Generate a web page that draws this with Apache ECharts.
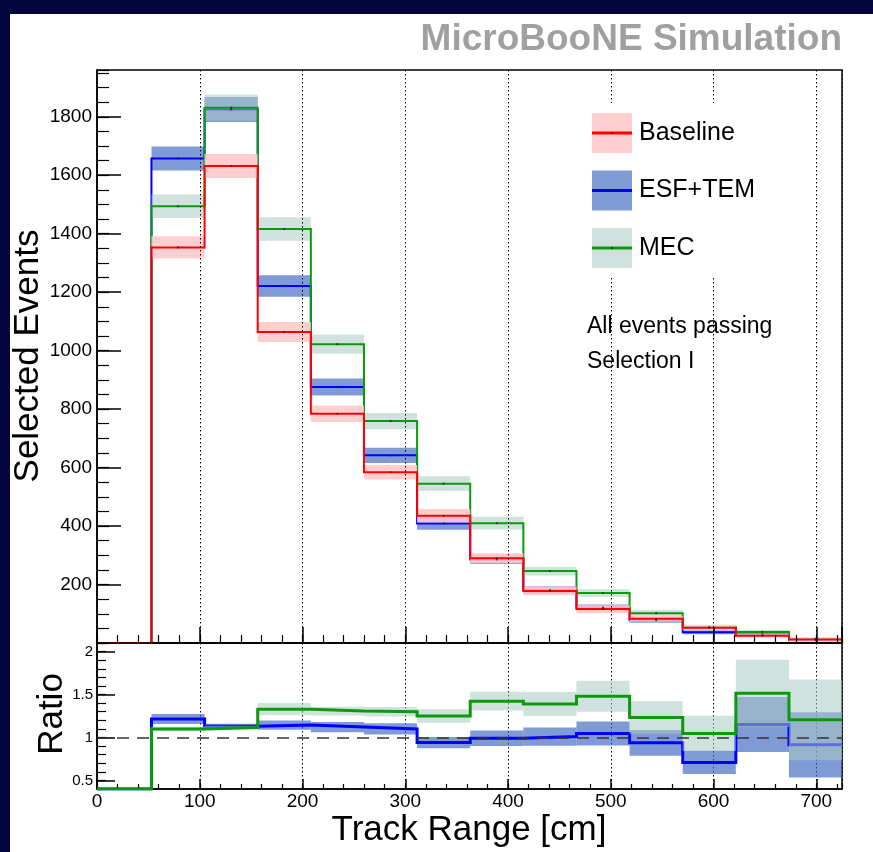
<!DOCTYPE html>
<html>
<head>
<meta charset="utf-8">
<script src="https://cdn.jsdelivr.net/npm/echarts@6/dist/echarts.min.js"></script>
<style>
  html, body { margin: 0; padding: 0; background: #03053f; }
  #chart { width: 873px; height: 852px; }
</style>
</head>
<body>
<div id="chart"></div>
<script>
// Track-range histograms (14 bins) for three generator configurations.
const binEdges = [0, 53.0, 104.7, 156.4, 208.1, 259.8, 311.5, 363.2, 414.9, 466.6, 518.3, 570.0, 621.7, 673.4, 725];

const baseline    = [0, 1353, 1632, 1064, 784, 584, 435, 290, 178, 116, 83, 52, 25, 12];
const baselineErr = [0, 38, 41, 34, 28, 25, 23, 17, 15, 13, 10, 8, 6, 6];

const esfTem      = [0, 1657, 1825, 1221, 876, 642, 409, 286, 181, 121, 78, 37, 29, 11];
const esfTemErr   = [0, 41, 43, 37, 29, 26, 22, 16, 13, 11, 9, 7, 6, 5];

const mec         = [0, 1494, 1831, 1416, 1022, 759, 545, 410, 246, 171, 102, 54, 38, 14];
const mecErr      = [0, 40, 45, 40, 33, 28, 25, 22, 15, 13, 11, 8, 7, 6];

// Ratios to the baseline prediction, with their uncertainty bands.
const esfTemRatio    = [0, 1.214, 1.13, 1.144, 1.121, 1.10, 0.94, 0.99, 1.01, 1.047, 0.938, 0.71, 1.15, 0.915];
const esfTemRatioErr = [0, 0.058, 0.03, 0.055, 0.06, 0.065, 0.065, 0.09, 0.105, 0.14, 0.15, 0.135, 0.32, 0.38];
const mecRatio       = [0, 1.10, 1.116, 1.33, 1.307, 1.30, 1.25, 1.423, 1.39, 1.48, 1.233, 1.047, 1.516, 1.206];
const mecRatioErr    = [0, 0.025, 0.02, 0.07, 0.05, 0.055, 0.08, 0.11, 0.14, 0.18, 0.19, 0.205, 0.39, 0.47];

// Axis ranges
const xRange = [0, 725];
const xMajorStep = 100, xMinorStep = 20;
const yRange = [0, 1960];
const yMajorStep = 200, yMinorStep = 50;
const ratioRange = [0.4, 2.1];
const ratioMajorStep = 0.5, ratioMinorStep = 0.1;

const legendEntries = ['Baseline', 'ESF+TEM', 'MEC'];
const noteLines = ['All events passing', 'Selection I'];

const FONT = '"Liberation Sans", Arial, Helvetica, sans-serif';

const colors = {
  baseline: { line: '#ff0000', band: 'rgba(255,200,200,0.88)' },
  esfTem:   { line: '#0000ff', band: 'rgba(60,100,190,0.65)' },
  mec:      { line: '#0c9a0c', band: 'rgba(170,202,195,0.55)' }
};

// Step outline of a histogram: two points per bin at its edges.
function stepPoints(values, floor) {
  const pts = [];
  values.forEach((v, i) => {
    const y = floor != null ? Math.max(v, floor) : v;
    pts.push([binEdges[i], y]);
    pts.push([binEdges[i + 1], y]);
  });
  return pts;
}

function lineSeries(name, axis, values, color, width, z, floor) {
  return {
    type: 'line', name, xAxisIndex: axis, yAxisIndex: axis,
    data: stepPoints(values, floor),
    showSymbol: false, symbol: 'none', clip: true, z, silent: true,
    lineStyle: { color, width, join: 'miter', cap: 'butt' }
  };
}

function bandSeries(name, axis, values, errors, fill, z) {
  const data = [];
  values.forEach((v, i) => {
    if (v > 0) data.push([binEdges[i], binEdges[i + 1], v - errors[i], v + errors[i]]);
  });
  return {
    type: 'custom', name, xAxisIndex: axis, yAxisIndex: axis, z, silent: true, clip: true,
    encode: { x: [0, 1], y: [2, 3] },
    renderItem(params, api) {
      const a = api.coord([api.value(0), api.value(3)]);
      const b = api.coord([api.value(1), api.value(2)]);
      return { type: 'rect', shape: { x: a[0], y: a[1], width: b[0] - a[0], height: b[1] - a[1] }, style: { fill } };
    },
    data
  };
}

function centerDots(values, z) {
  const data = [];
  values.forEach((v, i) => { if (v > 0) data.push([(binEdges[i] + binEdges[i + 1]) / 2, v]); });
  return { type: 'scatter', xAxisIndex: 0, yAxisIndex: 0, data, symbolSize: 2.2, z, silent: true,
           itemStyle: { color: '#222' } };
}

const plainNumber = v => String(v);
const tickText = { color: '#000', fontFamily: FONT, formatter: plainNumber };

const chart = echarts.init(document.getElementById('chart'), null, { renderer: 'canvas' });

const grids = [
  { left: 97, top: 70, width: 745, height: 573, show: true, borderColor: '#000', borderWidth: 1.5, backgroundColor: 'transparent' },
  { left: 97, top: 643, width: 745, height: 146, show: true, borderColor: '#000', borderWidth: 1.5, backgroundColor: 'transparent' }
];

const dottedGrid = { show: true, lineStyle: { color: '#000', width: 1, type: [1.5, 2.5] } };

const xAxes = [
  { type: 'value', gridIndex: 0, min: xRange[0], max: xRange[1], interval: xMajorStep, z: 10,
    axisLine: { show: true, lineStyle: { color: '#000', width: 1.5 } },
    axisTick: { show: true, inside: true, length: 16, lineStyle: { color: '#000', width: 1.5 } },
    axisLabel: { show: false }, splitLine: dottedGrid },
  { type: 'value', gridIndex: 0, position: 'bottom', min: xRange[0], max: xRange[1], interval: xMinorStep, z: 10,
    axisLine: { show: false },
    axisTick: { show: true, inside: true, length: 8, lineStyle: { color: '#000', width: 1.2 } },
    axisLabel: { show: false }, splitLine: { show: false } },
  { type: 'value', gridIndex: 1, min: xRange[0], max: xRange[1], interval: xMajorStep,
    axisLine: { show: true, lineStyle: { color: '#000', width: 1.5 } },
    axisTick: { show: true, inside: true, length: 10, lineStyle: { color: '#000', width: 1.5 } },
    axisLabel: { show: true, fontSize: 19, margin: 3, showMaxLabel: false, ...tickText },
    splitLine: dottedGrid },
  { type: 'value', gridIndex: 1, position: 'bottom', min: xRange[0], max: xRange[1], interval: xMinorStep,
    axisLine: { show: false },
    axisTick: { show: true, inside: true, length: 5, lineStyle: { color: '#000', width: 1.2 } },
    axisLabel: { show: false }, splitLine: { show: false } }
];

const yAxes = [
  { type: 'value', gridIndex: 0, min: yRange[0], max: yRange[1], interval: yMajorStep, z: 10,
    axisLine: { show: true, lineStyle: { color: '#000', width: 1.5 } },
    axisTick: { show: true, inside: true, length: 24, lineStyle: { color: '#000', width: 1.5 } },
    axisLabel: { show: true, fontSize: 19, margin: 5, showMinLabel: false, showMaxLabel: false, ...tickText },
    splitLine: { show: false } },
  { type: 'value', gridIndex: 0, position: 'left', min: yRange[0], max: yRange[1], interval: yMinorStep, z: 10,
    axisLine: { show: false },
    axisTick: { show: true, inside: true, length: 12, lineStyle: { color: '#000', width: 1.2 } },
    axisLabel: { show: false }, splitLine: { show: false } },
  { type: 'value', gridIndex: 1, min: ratioRange[0], max: ratioRange[1],
    minInterval: ratioMajorStep, maxInterval: ratioMajorStep,
    axisLine: { show: true, lineStyle: { color: '#000', width: 1.5 } },
    axisTick: { show: true, inside: true, length: 18, lineStyle: { color: '#000', width: 1.5 } },
    axisLabel: { show: true, fontSize: 15, margin: 4, showMinLabel: false, showMaxLabel: false, ...tickText },
    splitLine: { show: false } },
  { type: 'value', gridIndex: 1, position: 'left', min: ratioRange[0], max: ratioRange[1], interval: ratioMinorStep,
    axisLine: { show: false },
    axisTick: { show: true, inside: true, length: 9, lineStyle: { color: '#000', width: 1.2 } },
    axisLabel: { show: false }, splitLine: { show: false } }
];

const series = [
  // upper pad
  bandSeries('ESF+TEM band', 0, esfTem, esfTemErr, colors.esfTem.band, 2),
  lineSeries('ESF+TEM', 0, esfTem, colors.esfTem.line, 2, 3),
  bandSeries('MEC band', 0, mec, mecErr, colors.mec.band, 4),
  lineSeries('MEC', 0, mec, colors.mec.line, 2, 5),
  bandSeries('Baseline band', 0, baseline, baselineErr, colors.baseline.band, 6),
  lineSeries('Baseline', 0, baseline, colors.baseline.line, 2, 7),
  centerDots(esfTem, 8), centerDots(mec, 8), centerDots(baseline, 8),
  // ratio pad
  bandSeries('ESF+TEM ratio band', 2, esfTemRatio, esfTemRatioErr, colors.esfTem.band, 2),
  lineSeries('ESF+TEM ratio', 2, esfTemRatio, colors.esfTem.line, 3, 3, ratioRange[0]),
  bandSeries('MEC ratio band', 2, mecRatio, mecRatioErr, colors.mec.band, 4),
  Object.assign(lineSeries('MEC ratio', 2, mecRatio, colors.mec.line, 3, 5, ratioRange[0]), {
    markLine: {
      silent: true, symbol: ['none', 'none'], label: { show: false },
      lineStyle: { color: '#333', width: 1.5, type: [12, 8] },
      data: [{ yAxis: 1 }]
    }
  })
];

// Legend box and annotation, drawn in pixel space.
const legendBands = [colors.baseline, colors.esfTem, colors.mec];
const legendGraphics = [
  { type: 'rect', z: 50, shape: { x: 584, y: 103, width: 205, height: 175 }, style: { fill: '#fff' } }
];
legendEntries.forEach((label, i) => {
  const y0 = 113 + i * 57.5;
  legendGraphics.push(
    { type: 'rect', z: 51, shape: { x: 592, y: y0, width: 40, height: 40 }, style: { fill: legendBands[i].band } },
    { type: 'line', z: 52, shape: { x1: 592, y1: y0 + 20, x2: 632, y2: y0 + 20 }, style: { stroke: legendBands[i].line, lineWidth: 3 } },
    { type: 'circle', z: 53, shape: { cx: 612, cy: y0 + 20, r: 1 }, style: { fill: '#222' } },
    { type: 'text', z: 53, x: 639, y: y0 + 20,
      style: { text: label, fill: '#000', font: '25px ' + FONT, textAlign: 'left', textVerticalAlign: 'middle' } }
  );
});
noteLines.forEach((t, i) => {
  legendGraphics.push({ type: 'text', z: 53, x: 587, y: 327 + i * 35,
    style: { text: t, fill: '#000', font: '23px ' + FONT, textAlign: 'left', textVerticalAlign: 'middle' } });
});

const option = {
  animation: false,
  backgroundColor: '#03053f',
  grid: grids,
  xAxis: xAxes,
  yAxis: yAxes,
  series,
  graphic: [
    { type: 'rect', z: -10, shape: { x: 10, y: 14, width: 863, height: 838 }, style: { fill: '#ffffff' } },
    { type: 'text', z: 60, x: 842, y: 40,
      style: { text: 'MicroBooNE Simulation', fill: '#a0a0a0', font: 'bold 37px ' + FONT, textAlign: 'right', textVerticalAlign: 'middle' } },
    { type: 'text', z: 60, x: 28, y: 356, rotation: Math.PI / 2,
      style: { text: 'Selected Events', fill: '#000', font: '35px ' + FONT, textAlign: 'center', textVerticalAlign: 'middle' } },
    { type: 'text', z: 60, x: 52, y: 714, rotation: Math.PI / 2,
      style: { text: 'Ratio', fill: '#000', font: '35px ' + FONT, textAlign: 'center', textVerticalAlign: 'middle' } },
    { type: 'text', z: 60, x: 469, y: 830,
      style: { text: 'Track Range [cm]', fill: '#000', font: '35px ' + FONT, textAlign: 'center', textVerticalAlign: 'middle' } },
    ...legendGraphics
  ]
};

chart.setOption(option);
</script>
</body>
</html>
